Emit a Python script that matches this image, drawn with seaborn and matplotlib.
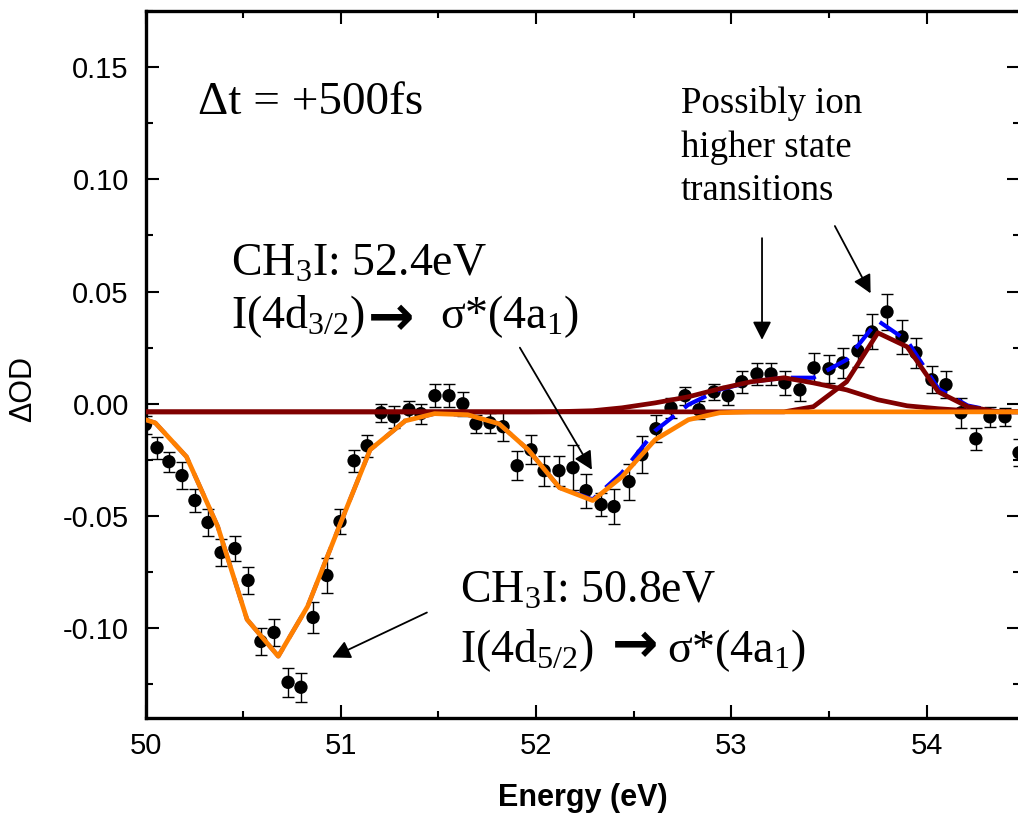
import matplotlib
matplotlib.use("Agg")
import matplotlib.pyplot as plt
from matplotlib.ticker import MultipleLocator, FormatStrFormatter
import pandas as pd
import seaborn as sns

# Measured transient absorption spectrum (Delta OD vs photon energy)
energy = [50.000, 50.059, 50.120, 50.187, 50.253, 50.320, 50.387, 50.458, 50.525, 50.591,
          50.658, 50.730, 50.796, 50.858, 50.929, 50.996, 51.068, 51.135, 51.206, 51.272,
          51.349, 51.410, 51.482, 51.554, 51.625, 51.692, 51.764, 51.831, 51.903, 51.974,
          52.041, 52.117, 52.189, 52.256, 52.333, 52.399, 52.476, 52.542, 52.614, 52.691,
          52.763, 52.834, 52.911, 52.983, 53.054, 53.131, 53.203, 53.274, 53.351, 53.423,
          53.500, 53.571, 53.648, 53.720, 53.797, 53.874, 53.945, 54.027, 54.099, 54.176,
          54.252, 54.324, 54.401, 54.473]
dod = [-0.0093, -0.0196, -0.0258, -0.0320, -0.0431, -0.0529, -0.0663, -0.0645, -0.0787, -0.1059,
       -0.1019, -0.1241, -0.1263, -0.0952, -0.0765, -0.0525, -0.0254, -0.0187, -0.0040, -0.0058,
       -0.0027, -0.0044, 0.0036, 0.0036, 0.0000, -0.0089, -0.0085, -0.0102, -0.0276, -0.0205,
       -0.0298, -0.0298, -0.0285, -0.0387, -0.0449, -0.0458, -0.0347, -0.0227, -0.0111, -0.0018,
       0.0036, -0.0027, 0.0053, 0.0036, 0.0098, 0.0133, 0.0133, 0.0093, 0.0062, 0.0160,
       0.0156, 0.0182, 0.0236, 0.0320, 0.0409, 0.0298, 0.0227, 0.0107, 0.0085, -0.0040,
       -0.0156, -0.0058, -0.0058, -0.0218]
dod_err = [0.0040, 0.0050, 0.0045, 0.0060, 0.0050, 0.0060, 0.0060, 0.0055, 0.0060, 0.0060,
           0.0060, 0.0065, 0.0065, 0.0070, 0.0078, 0.0055, 0.0050, 0.0050, 0.0040, 0.0050,
           0.0040, 0.0045, 0.0050, 0.0050, 0.0053, 0.0040, 0.0045, 0.0065, 0.0065, 0.0065,
           0.0067, 0.0067, 0.0100, 0.0076, 0.0052, 0.0078, 0.0080, 0.0083, 0.0060, 0.0045,
           0.0040, 0.0040, 0.0037, 0.0043, 0.0050, 0.0050, 0.0050, 0.0054, 0.0048, 0.0065,
           0.0063, 0.0065, 0.0070, 0.0078, 0.0080, 0.0074, 0.0067, 0.0060, 0.0060, 0.0067,
           0.0050, 0.0045, 0.0040, 0.0060]

# Fit components sampled on the model grid
fit_energy = [50.00, 50.05, 50.21, 50.37, 50.52, 50.68, 50.83, 51.00, 51.15, 51.33,
              51.48, 51.65, 51.81, 51.96, 52.12, 52.29, 52.44, 52.61, 52.78, 52.94,
              53.10, 53.27, 53.42, 53.59, 53.75, 53.90, 54.06, 54.21, 54.37, 54.53]
fit_neutral = [-0.0071, -0.0085, -0.0236, -0.0547, -0.0961, -0.1125, -0.0903, -0.0529, -0.0205, -0.0076,
               -0.0044, -0.0049, -0.0089, -0.0205, -0.0374, -0.0431, -0.0325, -0.0160, -0.0071, -0.0040,
               -0.0036, -0.0036, -0.0036, -0.0036, -0.0036, -0.0036, -0.0036, -0.0036, -0.0036, -0.0036]
fit_ion_broad = [-0.0036, -0.0036, -0.0036, -0.0036, -0.0036, -0.0036, -0.0036, -0.0036, -0.0036, -0.0036,
                 -0.0036, -0.0036, -0.0036, -0.0036, -0.0035, -0.0031, -0.0018, 0.0004, 0.0031, 0.0067,
                 0.0098, 0.0116, 0.0093, 0.0062, 0.0018, -0.0009, -0.0022, -0.0031, -0.0036, -0.0036]
fit_ion_narrow = [-0.0036, -0.0036, -0.0036, -0.0036, -0.0036, -0.0036, -0.0036, -0.0036, -0.0036, -0.0036,
                  -0.0036, -0.0036, -0.0036, -0.0036, -0.0036, -0.0036, -0.0036, -0.0036, -0.0036, -0.0036,
                  -0.0036, -0.0036, -0.0013, 0.0098, 0.0316, 0.0254, 0.0053, -0.0013, -0.0036, -0.0036]
fit_total = [-0.0071, -0.0085, -0.0236, -0.0547, -0.0961, -0.1125, -0.0903, -0.0529, -0.0205, -0.0076,
             -0.0044, -0.0049, -0.0089, -0.0205, -0.0374, -0.0426, -0.0307, -0.0120, -0.0004, 0.0063,
             0.0098, 0.0116, 0.0116, 0.0196, 0.0370, 0.0281, 0.0067, -0.0008, -0.0036, -0.0036]

sns.set_theme(style="ticks")
plt.rcParams.update({
    "font.family": ["Liberation Sans", "DejaVu Sans"],
    "text.color": "black",
    "axes.labelcolor": "black",
    "xtick.color": "black",
    "ytick.color": "black",
    "axes.unicode_minus": False,
    "mathtext.fontset": "custom",
    "mathtext.rm": "Liberation Serif",
    "mathtext.default": "regular",
})

W, H = 1018, 819
fig = plt.figure(figsize=(W / 100, H / 100), dpi=100)
ax = fig.add_axes([145.5 / W, 1 - 718 / H, 874.5 / W, 707 / H])

data = pd.DataFrame({"energy": energy, "dod": dod, "err": dod_err})
fits = pd.DataFrame({"energy": fit_energy, "neutral": fit_neutral, "broad": fit_ion_broad,
                     "narrow": fit_ion_narrow, "total": fit_total})

ax.errorbar(data["energy"], data["dod"], yerr=data["err"], fmt="none", ecolor="black",
            elinewidth=1.0, capsize=4.5, capthick=1.0, zorder=2)
sns.scatterplot(data=data, x="energy", y="dod", ax=ax, color="black", s=92,
                edgecolor="none", zorder=3, legend=False)

sns.lineplot(data=fits, x="energy", y="total", ax=ax, color="#0000ff", lw=3.0,
             dashes=False, sort=False, estimator=None, zorder=4, legend=False)
ax.lines[-1].set_dashes((6, 3))
for col in ("broad", "narrow"):
    sns.lineplot(data=fits, x="energy", y=col, ax=ax, color="#800000", lw=3.4,
                 sort=False, estimator=None, zorder=5, legend=False)
sns.lineplot(data=fits, x="energy", y="neutral", ax=ax, color="#ff8000", lw=3.4,
             sort=False, estimator=None, zorder=6, legend=False)

ax.set_xlim(50, 54.478)
ax.set_ylim(-0.14, 0.175)
ax.xaxis.set_major_locator(MultipleLocator(1))
ax.xaxis.set_minor_locator(MultipleLocator(0.5))
ax.yaxis.set_major_locator(MultipleLocator(0.05))
ax.yaxis.set_minor_locator(MultipleLocator(0.025))
ax.xaxis.set_major_formatter(FormatStrFormatter("%d"))
ax.yaxis.set_major_formatter(FormatStrFormatter("%.2f"))
ax.tick_params(which="both", direction="in", top=True, right=True, width=1.5, colors="black")
ax.tick_params(which="major", length=9.5, labelsize=21)
ax.tick_params(which="minor", length=4.7)
ax.tick_params(axis="x", which="major", pad=10)
ax.tick_params(axis="y", which="major", pad=12)
for sp in ax.spines.values():
    sp.set_linewidth(2.4)
    sp.set_color("black")

ax.set_xlabel("Energy (eV)", fontsize=22, fontweight="bold")
ax.set_ylabel("ΔOD", fontsize=22)
ax.xaxis.set_label_coords(0.5, -0.092)
ax.yaxis.set_label_coords(-0.123, 0.465)


def fx(px):
    return px / W


def fy(py):
    return 1 - py / H


serif = "Liberation Serif"
fig.text(fx(198), fy(114), "Δt = +500fs", fontsize=34, family=serif, va="baseline")

fig.text(fx(231), fy(276), "CH$_3$I: 52.4eV", fontsize=33, family=serif, va="baseline")
fig.text(fx(231), fy(328), "I(4d$_{3/2}$)", fontsize=33, family=serif, va="baseline")
fig.text(fx(391), fy(320), "→", fontsize=40, family="DejaVu Sans", fontweight="bold",
         ha="center", va="center")
fig.text(fx(440), fy(328), "σ*(4a$_1$)", fontsize=33, family=serif, va="baseline")

fig.text(fx(460), fy(603), "CH$_3$I: 50.8eV", fontsize=33, family=serif, va="baseline")
fig.text(fx(460), fy(662), "I(4d$_{5/2}$)", fontsize=33, family=serif, va="baseline")
fig.text(fx(635), fy(647), "→", fontsize=40, family="DejaVu Sans", fontweight="bold",
         ha="center", va="center")
fig.text(fx(667), fy(662), "σ*(4a$_1$)", fontsize=33, family=serif, va="baseline")

for line, py in zip(["Possibly ion", "higher state", "transitions"], [113, 157, 200]):
    fig.text(fx(681), fy(py), line, fontsize=26.5, family=serif, va="baseline")

arrow_kw = dict(arrowstyle="-|>,head_length=0.55,head_width=0.28", color="black",
                lw=1.3, mutation_scale=20, shrinkA=0, shrinkB=0)
for tail, tip in [((51.917, 0.025), (52.286, -0.0294)),
                  ((51.441, -0.093), (50.955, -0.113)),
                  ((53.157, 0.0738), (53.157, 0.0285)),
                  ((53.53, 0.0792), (53.713, 0.0492))]:
    ax.annotate("", xy=tip, xytext=tail, arrowprops=arrow_kw, zorder=7)

fig.savefig("out.png", dpi=100)
